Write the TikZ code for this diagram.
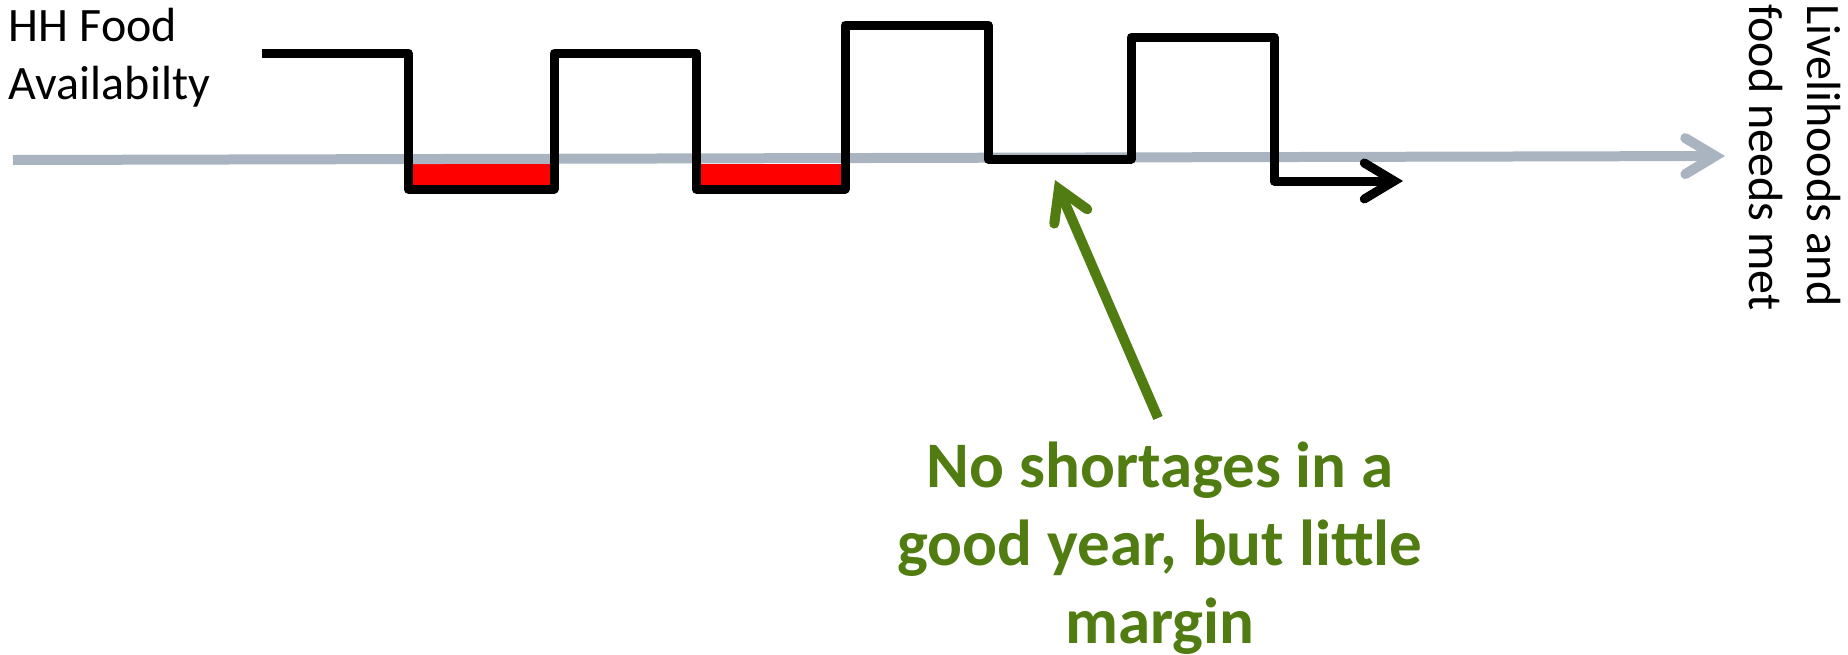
\documentclass[tikz,border=0pt]{standalone}
\usepackage{fontspec}
\setmainfont{Carlito}
\usetikzlibrary{arrows.meta}
\definecolor{axisgray}{RGB}{169,180,192}
\definecolor{noteolive}{RGB}{80,124,18}
\definecolor{deficit}{RGB}{255,0,0}
\tikzset{
  barb/.style={-{Straight Barb[length=#1, width=36pt, line cap=round, line join=miter]}},
  axisline/.style={draw=axisgray, line width=10pt, barb=30pt},
  supply/.style={draw=black, line width=9pt, line join=round, barb=30pt},
  callout/.style={draw=noteolive, line width=10pt, barb=30pt},
  shortfall/.style={fill=deficit, draw=none},
  plain/.style={inner sep=0pt, outer sep=0pt, font=\fontsize{48}{58}\selectfont},
}
\begin{document}
\begin{tikzpicture}[x=1pt, y=-1pt]
  \useasboundingbox (0,0) rectangle (1848,654);

  % months where availability falls short of needs
  \fill[shortfall] (411,164) rectangle (550,185);
  \fill[shortfall] (700,164) rectangle (841,185);

  % threshold: livelihoods and food needs met
  \coordinate (axisL) at (13,160);
  \coordinate (axisR) at (1725,156);
  \draw[axisline] (axisL) -- (axisR);

  % household food availability over the years
  \coordinate (hhStart) at (262,53);
  \coordinate (hhEnd) at (1403,181);
  \draw[supply] (hhStart) -| (408,189) -| (554,53) -| (696,189) -| (845,25)
    -| (988,159) -| (1131,37) -| (1274,181) -- (hhEnd);

  % labels (anchored on the baseline of their last line)
  \node[plain, anchor=base west, align=left] (ylabel) at (9,99)
    {HH Food\\Availabilty};
  \node[plain, rotate=-90, anchor=base west, align=left] (xlabel) at (1749,4)
    {Livelihoods and\\food needs met};

  \node[inner sep=0pt, anchor=base, align=center, text=noteolive,
        font=\bfseries\fontsize{65}{78}\selectfont] (note) at (1160,643)
    {No shortages in a\\good year, but little\\margin};

  % pointer from the note to the good-year dip
  \coordinate (noteTail) at (1158,418);
  \coordinate (goodYear) at (1055,180);
  \draw[callout] (noteTail) -- (goodYear);
\end{tikzpicture}
\end{document}
